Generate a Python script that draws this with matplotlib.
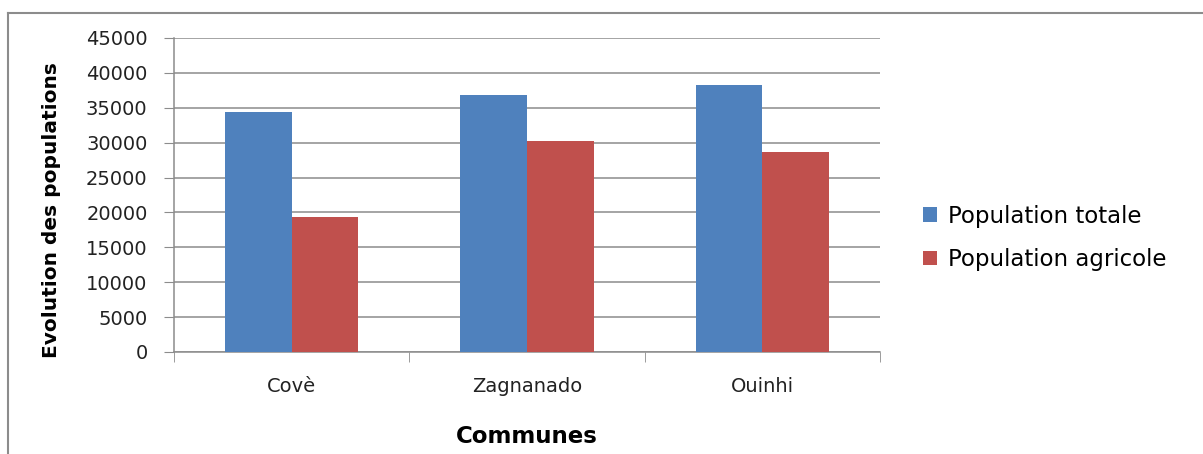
import numpy as np
import matplotlib
matplotlib.use("Agg")
import matplotlib.pyplot as plt
from matplotlib.lines import Line2D

communes = ["Covè", "Zagnanado", "Ouinhi"]
pop_totale = [34400, 36800, 38300]
pop_agricole = [19300, 30200, 28650]
series_labels = ["Population totale", "Population agricole"]
yticks = [0, 5000, 10000, 15000, 20000, 25000, 30000, 35000, 40000, 45000]

plt.rcParams["font.family"] = ["DejaVu Sans"]

fig = plt.figure(figsize=(12.03, 4.54), dpi=100)
ax = fig.add_axes([0.1446, 0.2247, 0.5869, 0.6916])

x = np.arange(len(communes))
w = 0.283
b1 = ax.bar(x - w / 2, pop_totale, w, color="#4F81BD", label=series_labels[0], zorder=3)
b2 = ax.bar(x + w / 2, pop_agricole, w, color="#C0504D", label=series_labels[1], zorder=3)

ax.set_xlim(-0.5, len(communes) - 0.5)
ax.set_ylim(0, 45000)
ax.set_yticks(yticks)
ax.set_yticklabels([str(v) for v in yticks], fontsize=14, color="#222222")
ax.yaxis.grid(True, color="#8c8c8c", lw=1.1, zorder=0)

ax.set_xticks(x)
ax.set_xticklabels(communes, fontsize=14, color="#222222")
ax.tick_params(axis="x", length=0, pad=18)
ax.set_xticks(np.arange(-0.5, len(communes)), minor=True)
ax.tick_params(axis="x", which="minor", length=7, color="#8c8c8c", direction="out")
ax.tick_params(axis="y", length=7, color="#8c8c8c", direction="out", pad=12)

for s in ["top", "right"]:
    ax.spines[s].set_visible(False)
for s in ["left", "bottom"]:
    ax.spines[s].set_color("#8c8c8c")
    ax.spines[s].set_linewidth(1.1)

ax.set_ylabel("Evolution des populations", fontsize=14.5, fontweight="bold")
ax.yaxis.set_label_coords(-0.16, 0.452)
ax.set_xlabel("Communes", fontsize=16.5, fontweight="bold", labelpad=21)

fig.legend(handles=[b1, b2], labels=series_labels, loc="center left",
           bbox_to_anchor=(0.75, 0.476), frameon=False, fontsize=16.5,
           handlelength=0.6, handleheight=0.6, handletextpad=0.5, labelspacing=0.9)

# outer chart frame (left and top edges visible)
fig.add_artist(Line2D([8 / 1203, 8 / 1203], [0, 1 - 13 / 454], color="#8c8c8c", lw=1.5))
fig.add_artist(Line2D([8 / 1203, 1], [1 - 13 / 454, 1 - 13 / 454], color="#8c8c8c", lw=1.5))

fig.savefig("out.png", dpi=100)
